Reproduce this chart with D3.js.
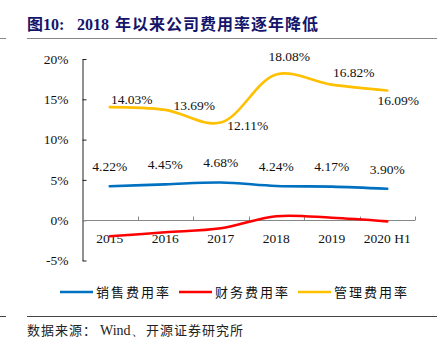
<!DOCTYPE html>
<html><head><meta charset="utf-8">
<script src="https://cdn.jsdelivr.net/npm/d3@7"></script>
<style>body{margin:0;background:#fff;} svg{display:block;}</style>
</head><body>
<script>
const categories = ["2015","2016","2017","2018","2019","2020 H1"];
const salesRate = [4.22, 4.45, 4.68, 4.24, 4.17, 3.90];
const financeRate = [-2.0, -1.5, -1.0, 0.5, 0.3, -0.15];
const adminRate = [14.03, 13.69, 12.11, 18.08, 16.82, 16.09];
const yTicks = [-5, 0, 5, 10, 15, 20];
const seriesNames = ["销售费用率", "财务费用率", "管理费用率"];
const colors = ["#0070C0", "#FF0000", "#FFC000"];
// label offsets (layout only)
const salesLabelOffset = [[0,-20],[0,-20],[0,-20],[0,-20],[0,-20],[0,-19]];
const adminLabelOffset = [[22,-8],[29,-5],[27,3],[13,-18],[22,-12],[11,10]];

const W = 447, H = 355;
const svg = d3.select("body").append("svg").attr("width", W).attr("height", H);
const serif = "'Liberation Serif','Times New Roman',serif";
const cjk = "'Noto Sans CJK SC','Liberation Serif',serif";

// Title
const title = svg.append("text").attr("y", 30)
  .attr("font-family", "'Liberation Serif','Noto Sans CJK SC',serif").attr("font-weight", "bold")
  .attr("font-size", 16).attr("fill", "#14146a");
title.append("tspan").attr("x", 27).text("图10:");
title.append("tspan").attr("x", 77).text("2018");
title.append("tspan").attr("x", 115).attr("letter-spacing", 1).text("年以来公司费用率逐年降低");
svg.append("line").attr("x1", 27).attr("x2", 437).attr("y1", 38.5).attr("y2", 38.5).attr("stroke", "#888").attr("stroke-width", 1);
svg.append("line").attr("x1", 0).attr("x2", 6).attr("y1", 38.5).attr("y2", 38.5).attr("stroke", "#888").attr("stroke-width", 1);

const x = d3.scaleBand().domain(categories).range([82, 415]);
const y = d3.scaleLinear().domain([-5, 20]).range([260.5, 59]);
const cx = c => x(c) + x.bandwidth() / 2;

// Y axis
const yAxis = d3.axisLeft(y).tickValues(yTicks).tickFormat(d => d + "%").tickSizeInner(-4).tickSizeOuter(0).tickPadding(14);
const ga = svg.append("g").attr("transform", "translate(82.5,0)").call(yAxis);
ga.select(".domain").attr("stroke", "#222");
ga.selectAll(".tick line").attr("stroke", "#222");
ga.selectAll("text").attr("font-family", serif).attr("font-size", 13.5).attr("fill", "#111");

// Zero line with inward ticks at band boundaries
const y0 = Math.round(y(0)) + 0.5;
svg.append("line").attr("x1", 82).attr("x2", 415).attr("y1", y0).attr("y2", y0).attr("stroke", "#888");
categories.forEach(c => {
  const xb = Math.round(x(c) + x.bandwidth()) + 0.5;
  svg.append("line").attr("x1", xb).attr("x2", xb).attr("y1", y0).attr("y2", y0 - 4).attr("stroke", "#888");
});
// x labels
svg.append("g").selectAll("text").data(categories).join("text")
  .attr("x", d => cx(d)).attr("y", 243).attr("text-anchor", "middle")
  .attr("font-family", serif).attr("font-size", 13.5).attr("fill", "#111").text(d => d);

// Lines
const line = d3.line().x((d, i) => cx(categories[i])).y(d => y(d)).curve(d3.curveCatmullRom.alpha(0.5));
[salesRate, financeRate, adminRate].forEach((s, k) => {
  svg.append("path").datum(s).attr("d", line).attr("fill", "none")
    .attr("stroke", colors[k]).attr("stroke-width", 2.6).attr("stroke-linecap", "round");
});

// Data labels
svg.append("g").selectAll("text").data(salesRate).join("text")
  .attr("x", (d, i) => cx(categories[i]) + salesLabelOffset[i][0])
  .attr("y", (d, i) => y(d) + salesLabelOffset[i][1])
  .attr("dy", "0.35em").attr("text-anchor", "middle")
  .attr("font-family", serif).attr("font-size", 13.5).attr("fill", "#111")
  .text(d => d.toFixed(2) + "%");
svg.append("g").selectAll("text").data(adminRate).join("text")
  .attr("x", (d, i) => cx(categories[i]) + adminLabelOffset[i][0])
  .attr("y", (d, i) => y(d) + adminLabelOffset[i][1])
  .attr("dy", "0.35em").attr("text-anchor", "middle")
  .attr("font-family", serif).attr("font-size", 13.5).attr("fill", "#111")
  .text(d => d.toFixed(2) + "%");

// Legend
const legendX = [60, 179, 298];
seriesNames.forEach((n, k) => {
  const g = svg.append("g");
  g.append("line").attr("x1", legendX[k]).attr("x2", legendX[k] + 33).attr("y1", 292).attr("y2", 292)
    .attr("stroke", colors[k]).attr("stroke-width", 2.6);
  g.append("text").attr("x", legendX[k] + 36).attr("y", 292).attr("dy", "0.36em")
    .attr("font-family", cjk).attr("font-size", 13).attr("letter-spacing", 2).attr("fill", "#111").text(n);
});

// Bottom rule and source
svg.append("line").attr("x1", 27).attr("x2", 437).attr("y1", 316.5).attr("y2", 316.5).attr("stroke", "#444");
svg.append("line").attr("x1", 0).attr("x2", 6).attr("y1", 316.5).attr("y2", 316.5).attr("stroke", "#444");
const src = svg.append("text").attr("y", 330).attr("dy", "0.35em")
  .attr("font-family", "'Noto Sans CJK SC','Liberation Serif',serif").attr("font-size", 13).attr("fill", "#222");
src.append("tspan").attr("x", 27).attr("letter-spacing", 1).text("数据来源：");
src.append("tspan").attr("x", 100).attr("font-family", serif).attr("font-size", 14).text("Wind、");
src.append("tspan").attr("x", 146).attr("letter-spacing", 1).text("开源证券研究所");
</script>
</body></html>
